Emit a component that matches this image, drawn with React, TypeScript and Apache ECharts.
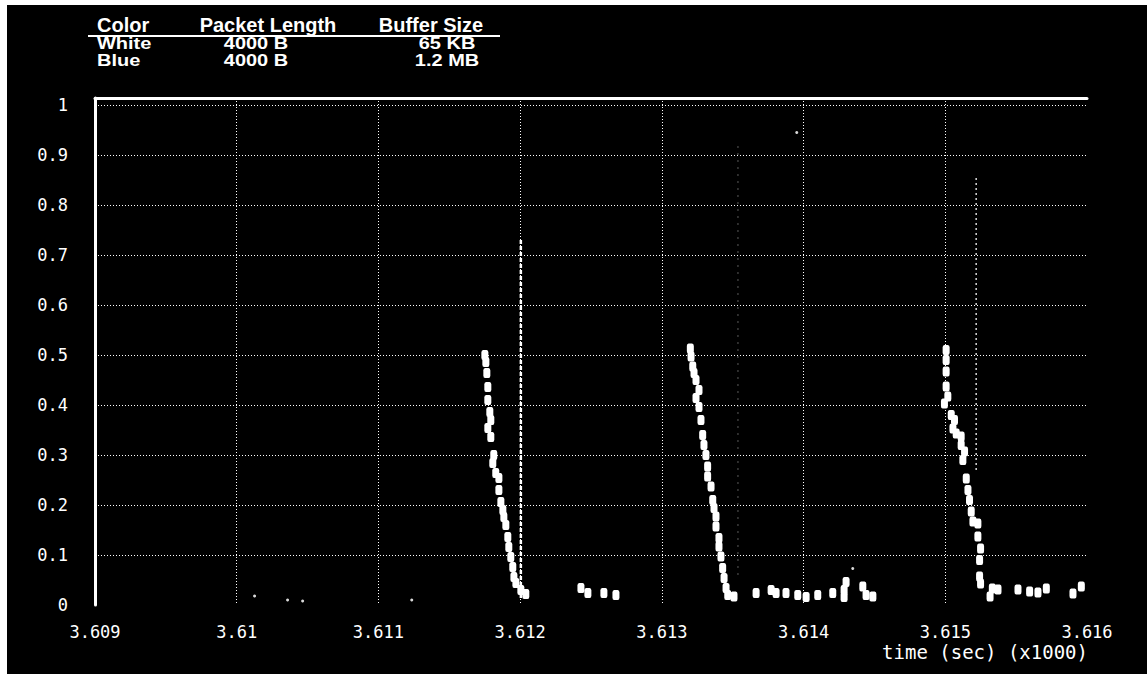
import React, { useEffect, useRef } from "react";
import * as echarts from "echarts";

// ---- data (x in sec x1000, y normalised) ----
const xTicks = [3.609, 3.61, 3.611, 3.612, 3.613, 3.614, 3.615, 3.616];

const whiteCycle1: [number, number][] = [
  [3.611751, 0.5], [3.611758, 0.486], [3.611765, 0.464], [3.611772, 0.436], [3.611772, 0.41],
  [3.611786, 0.386], [3.611793, 0.37], [3.611772, 0.354], [3.611793, 0.336], [3.611814, 0.3],
  [3.611807, 0.284], [3.611828, 0.264], [3.61185, 0.254], [3.61185, 0.23], [3.611864, 0.206],
  [3.611878, 0.19], [3.611885, 0.176], [3.611899, 0.16], [3.611913, 0.136], [3.61192, 0.116],
  [3.611934, 0.096], [3.611948, 0.076], [3.611956, 0.056], [3.61197, 0.044], [3.612005, 0.03],
  [3.61204, 0.022], [3.612429, 0.034], [3.612478, 0.024], [3.612591, 0.024], [3.612676, 0.02],
];

const whiteCycle2: [number, number][] = [
  [3.613201, 0.513], [3.613206, 0.497], [3.613218, 0.477], [3.613227, 0.464], [3.613241, 0.45],
  [3.613262, 0.43], [3.613241, 0.414], [3.613262, 0.396], [3.613276, 0.37], [3.613288, 0.34],
  [3.613297, 0.32], [3.613311, 0.3], [3.613323, 0.277], [3.613323, 0.257], [3.613347, 0.237],
  [3.613359, 0.21], [3.613368, 0.194], [3.613382, 0.177], [3.613382, 0.157], [3.613403, 0.134],
  [3.613403, 0.117], [3.613417, 0.097], [3.613429, 0.074], [3.613439, 0.054], [3.613453, 0.034],
  [3.613465, 0.02], [3.613509, 0.017], [3.613665, 0.024], [3.613771, 0.03], [3.613806, 0.024],
  [3.613876, 0.024], [3.613959, 0.02], [3.614018, 0.016], [3.6141, 0.02], [3.614206, 0.024],
  [3.614286, 0.03], [3.614286, 0.016], [3.6143, 0.046], [3.614418, 0.037], [3.614441, 0.02],
  [3.614489, 0.017],
];

const whiteCycle3: [number, number][] = [
  [3.615006, 0.51], [3.615006, 0.49], [3.615006, 0.467], [3.615006, 0.437], [3.615018, 0.417],
  [3.614994, 0.403], [3.615042, 0.38], [3.615065, 0.37], [3.615054, 0.353], [3.615077, 0.343],
  [3.615112, 0.337], [3.615112, 0.32], [3.615136, 0.307], [3.615124, 0.29], [3.615148, 0.253],
  [3.61516, 0.23], [3.615171, 0.21], [3.615183, 0.187], [3.615195, 0.167], [3.61523, 0.163],
  [3.61523, 0.137], [3.615249, 0.113], [3.615242, 0.09], [3.615242, 0.057], [3.615249, 0.043],
  [3.615332, 0.033], [3.615372, 0.031], [3.615316, 0.017], [3.615513, 0.031], [3.615595, 0.027],
  [3.615654, 0.025], [3.615713, 0.033], [3.615901, 0.023], [3.61596, 0.037],
];

const blueTraceA: [number, number][] = [[3.612005, 0.73], [3.612005, 0.01]];
const blueTraceB: [number, number][] = [[3.613537, 0.917], [3.613537, 0.06]];
const blueTraceC: [number, number][] = [[3.615218, 0.854], [3.615218, 0.27]];
const blueDots: [number, number][] = [
  [3.613952, 0.945], [3.614347, 0.073], [3.610126, 0.018], [3.610359, 0.01],
  [3.610465, 0.008], [3.611235, 0.01],
];

const tableHeader = ["Color", "Packet Length", "Buffer Size"];
const tableRows = [
  ["White", "4000 B", "65 KB"],
  ["Blue", "4000 B", "1.2 MB"],
];
const xAxisTitle = "time (sec) (x1000)";

const MONO = "'DejaVu Sans Mono', 'Liberation Mono', monospace";
const SANS = "'Liberation Sans', Arial, sans-serif";

export default function App() {
  const ref = useRef<HTMLDivElement>(null);
  useEffect(() => {
    if (!ref.current) return;
    const chart = echarts.init(ref.current, null, { renderer: "svg" });

    const colX = [90, 261, 424];
    const graphics: any[] = [];
    tableHeader.forEach((t, i) => {
      graphics.push({
        type: "text",
        x: colX[i],
        y: 19,
        scaleY: 1.05,
        style: {
          text: t,
          fill: "#fff",
          font: `bold 20px ${SANS}`,
          lineHeight: 16,
          textAlign: i === 0 ? "left" : "center",
          textVerticalAlign: "middle",
        },
      });
    });
    graphics.push({
      type: "line",
      shape: { x1: 81, y1: 31, x2: 493, y2: 31 },
      style: { stroke: "#fff", lineWidth: 2 },
    });
    const rowY = [38.5, 55.5];
    const rowX = [90, 249, 440];
    tableRows.forEach((row, r) => {
      row.forEach((t, i) => {
        graphics.push({
          type: "text",
          x: rowX[i],
          y: rowY[r],
          scaleY: 0.82,
          style: {
            text: t,
            fill: "#fff",
            font: `bold 20px ${SANS}`,
            lineHeight: 16,
            textAlign: i === 0 ? "left" : "center",
            textVerticalAlign: "middle",
          },
        });
      });
    });
    graphics.push({
      type: "text",
      x: 1081,
      y: 647,
      style: {
        text: xAxisTitle,
        fill: "#fff",
        font: `19px ${MONO}`,
        lineHeight: 14,
        textAlign: "right",
        textVerticalAlign: "middle",
      },
    });

    const scatter = (data: [number, number][]) => ({
      type: "scatter",
      name: "White",
      data,
      symbol: "roundRect",
      symbolSize: [7, 10],
      itemStyle: { color: "#fff", opacity: 1 },
      z: 5,
    });
    const trace = (data: [number, number][], width: number, dash: number[], opacity: number) => ({
      type: "line",
      name: "Blue",
      data,
      showSymbol: false,
      symbol: "none",
      lineStyle: { color: "#fff", width, type: dash, opacity },
      z: 4,
    });

    chart.setOption({
      animation: false,
      backgroundColor: "#000",
      grid: { left: 88, top: 93, right: 60, bottom: 69, containLabel: false },
      xAxis: [
        {
          type: "value",
          min: xTicks[0],
          max: xTicks[xTicks.length - 1],
          interval: 0.001,
          axisLine: { show: false },
          axisTick: { show: false },
          axisLabel: {
            color: "#fff",
            fontFamily: MONO,
            fontSize: 17,
            lineHeight: 14,
            margin: 20,
            formatter: (v: number) => String(parseFloat(v.toFixed(3))),
          },
          splitLine: {
            show: true,
            showMinLine: false,
            showMaxLine: false,
            lineStyle: { color: "#fff", width: 1, type: [1, 2] },
          },
        },
        {
          type: "value",
          position: "top",
          min: xTicks[0],
          max: xTicks[xTicks.length - 1],
          axisLine: { show: true, onZero: false, lineStyle: { color: "#fff", width: 3 } },
          axisTick: { show: false },
          axisLabel: { show: false },
          splitLine: { show: false },
        },
      ],
      yAxis: {
        type: "value",
        min: 0,
        max: 1.014,
        interval: 0.1,
        axisLine: { show: true, lineStyle: { color: "#fff", width: 3 } },
        axisTick: { show: false },
        axisLabel: {
          color: "#fff",
          fontFamily: MONO,
          fontSize: 17,
          margin: 27,
          showMaxLabel: false,
          formatter: (v: number) => (v > 1.001 ? "" : String(parseFloat(v.toFixed(1)))),
        },
        splitLine: {
          show: true,
          showMinLine: false,
          showMaxLine: false,
          lineStyle: { color: "#fff", width: 1, type: [1, 2] },
        },
      },
      graphic: graphics,
      series: [
        trace(blueTraceA, 2.5, [4, 2], 1),
        trace(blueTraceB, 1, [1, 6], 0.7),
        trace(blueTraceC, 1.5, [2, 3], 0.85),
        {
          type: "scatter",
          name: "Blue",
          data: blueDots,
          symbol: "circle",
          symbolSize: 3,
          itemStyle: { color: "#fff", opacity: 0.85 },
          z: 4,
        },
        scatter(whiteCycle1),
        scatter(whiteCycle2),
        scatter(whiteCycle3),
      ],
    });
    return () => chart.dispose();
  }, []);

  return (
    <div style={{ position: "fixed", left: 0, top: 0, width: 1147, height: 674, background: "#fff" }}>
      <div ref={ref} style={{ position: "absolute", left: 7, top: 5, width: 1140, height: 669 }} />
    </div>
  );
}
